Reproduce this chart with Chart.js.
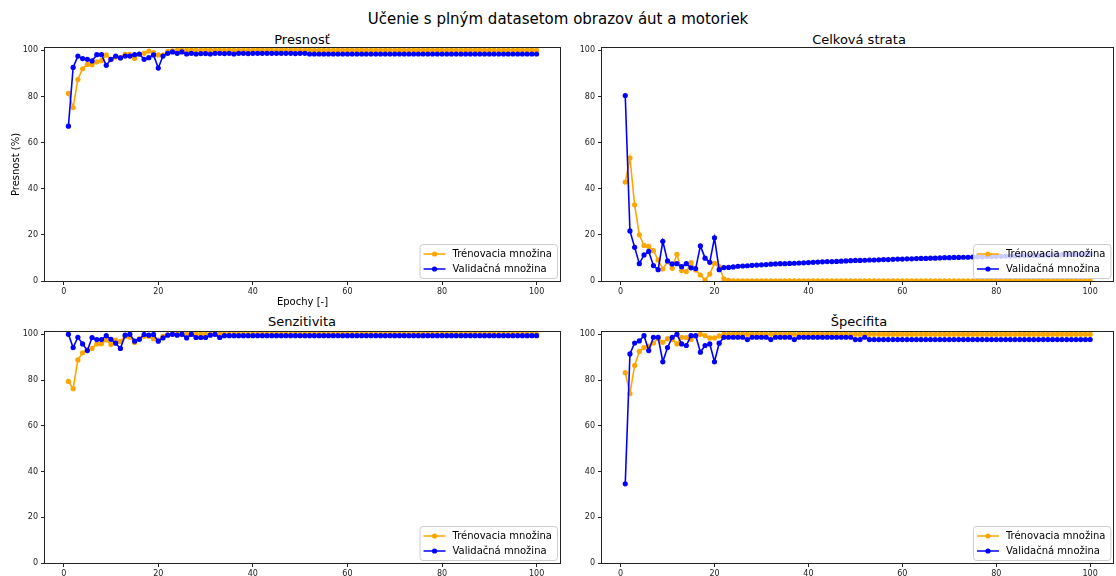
<!DOCTYPE html>
<html>
<head>
<meta charset="utf-8">
<title>Učenie s plným datasetom</title>
<script src="https://cdn.jsdelivr.net/npm/chart.js@4.4.1/dist/chart.umd.min.js"></script>
<style>
  body { margin: 0; background: #fff; }
  #fig { position: relative; width: 1116px; height: 576px; font-family: "DejaVu Sans", sans-serif; overflow: hidden; }
  #fig canvas { position: absolute; left: 0; top: 0; }
  .ttl { position: absolute; transform: translate(-50%, -50%); white-space: nowrap; color: #000; }
</style>
</head>
<body>
<div id="fig">
  <div class="ttl" style="left:558px;top:19px;font-size:15px">Učenie s plným datasetom obrazov áut a motoriek</div>
  <div class="ttl" style="left:302px;top:39px;font-size:13px">Presnosť</div>
  <div class="ttl" style="left:859px;top:39px;font-size:13px">Celková strata</div>
  <div class="ttl" style="left:302px;top:321px;font-size:13px">Senzitivita</div>
  <div class="ttl" style="left:859px;top:321px;font-size:13px">Špecifita</div>
  <canvas id="acc" width="1116" height="576"></canvas>
  <canvas id="loss" width="1116" height="576"></canvas>
  <canvas id="sens" width="1116" height="576"></canvas>
  <canvas id="spec" width="1116" height="576"></canvas>
</div>
<script>
// epochs 1..100
const epochs = Array.from({length: 100}, (_, i) => i + 1);
const xTicks = [0, 20, 40, 60, 80, 100];
const yTicks = [0, 20, 40, 60, 80, 100];
const seriesNames = ["Trénovacia množina", "Validačná množina"];

// presnost (%)
const accTrain = [
  81.3, 75.2, 87.3, 92.0, 93.9, 93.7, 95.0, 95.5, 98.0, 96.0,
  97.1, 96.8, 98.3, 98.3, 96.5, 98.3, 98.7, 99.7, 99.0, 98.0,
  97.9, 99.6, 99.8, 100, 100, 100, 100, 100, 100, 100,
  100, 100, 100, 100, 100, 100, 100, 100, 100, 100,
  100, 100, 100, 100, 100, 100, 100, 100, 100, 100,
  100, 100, 100, 100, 100, 100, 100, 100, 100, 100,
  100, 100, 100, 100, 100, 100, 100, 100, 100, 100,
  100, 100, 100, 100, 100, 100, 100, 100, 100, 100,
  100, 100, 100, 100, 100, 100, 100, 100, 100, 100,
  100, 100, 100, 100, 100, 100, 100, 100, 100, 100
];
const accVal = [
  67.1, 92.6, 97.5, 96.4, 96.1, 95.4, 98.1, 98.1, 93.5, 96.1,
  97.5, 96.7, 97.5, 97.5, 98.1, 98.4, 96.1, 96.8, 98.0, 92.3,
  97.5, 98.7, 99.3, 98.7, 99.3, 98.4, 98.7, 98.4, 98.6, 98.6,
  98.4, 98.7, 98.7, 98.6, 98.7, 98.4, 98.7, 98.7, 98.6, 98.7,
  98.7, 98.7, 98.7, 98.7, 98.7, 98.7, 98.7, 98.7, 98.6, 98.7,
  98.7, 98.4, 98.4, 98.4, 98.4, 98.4, 98.4, 98.4, 98.4, 98.4,
  98.4, 98.4, 98.4, 98.4, 98.4, 98.4, 98.4, 98.4, 98.4, 98.4,
  98.4, 98.4, 98.4, 98.4, 98.4, 98.4, 98.4, 98.4, 98.4, 98.4,
  98.4, 98.4, 98.4, 98.4, 98.4, 98.4, 98.4, 98.4, 98.4, 98.4,
  98.4, 98.4, 98.4, 98.4, 98.4, 98.4, 98.4, 98.4, 98.4, 98.4
];

// celkova strata
const lossTrain = [
  42.9, 53.3, 33.0, 20.0, 15.4, 15.0, 13.2, 9.1, 5.2, 8.4,
  5.5, 11.6, 4.5, 4.1, 8.0, 4.8, 2.6, 0.4, 3.0, 7.7,
  6.2, 0.9, 0.3, 0.1, 0.1, 0.1, 0.1, 0.1, 0.1, 0.1,
  0.1, 0.1, 0.1, 0.1, 0.1, 0.1, 0.1, 0.1, 0.1, 0.1,
  0.1, 0.1, 0.1, 0.1, 0.1, 0.1, 0.1, 0.1, 0.1, 0.1,
  0.1, 0.1, 0.1, 0.1, 0.1, 0.1, 0.1, 0.1, 0.1, 0.1,
  0.1, 0.1, 0.1, 0.1, 0.1, 0.1, 0.1, 0.1, 0.1, 0.1,
  0.1, 0.1, 0.1, 0.1, 0.1, 0.1, 0.1, 0.1, 0.1, 0.1,
  0.1, 0.1, 0.1, 0.1, 0.1, 0.1, 0.1, 0.1, 0.1, 0.1,
  0.1, 0.1, 0.1, 0.1, 0.1, 0.1, 0.1, 0.1, 0.1, 0.1
];
const lossVal = [
  80.4, 21.7, 14.6, 7.5, 11.3, 12.8, 6.7, 4.9, 17.2, 8.7,
  7.4, 7.5, 6.2, 7.5, 5.7, 5.4, 15.2, 9.9, 8.1, 18.7,
  4.9, 5.8, 5.9, 6.1, 6.4, 6.5, 6.6, 6.8, 6.9, 7.0,
  7.1, 7.3, 7.4, 7.5, 7.5, 7.6, 7.7, 7.8, 7.9, 8.0,
  8.1, 8.2, 8.3, 8.4, 8.4, 8.5, 8.6, 8.7, 8.8, 8.9,
  8.9, 9.0, 9.1, 9.1, 9.2, 9.3, 9.3, 9.4, 9.5, 9.5,
  9.6, 9.6, 9.7, 9.8, 9.8, 9.9, 9.9, 10.0, 10.1, 10.1,
  10.2, 10.2, 10.3, 10.3, 10.4, 10.5, 10.5, 10.6, 10.6, 10.7,
  10.7, 10.8, 10.8, 10.9, 10.9, 11.0, 11.0, 11.1, 11.1, 11.2,
  11.2, 11.3, 11.3, 11.4, 11.4, 11.5, 11.5, 11.6, 11.6, 11.7
];

// senzitivita
const sensTrain = [
  79.4, 76.2, 88.8, 91.9, 93.2, 93.8, 95.8, 95.9, 97.5, 95.5,
  97.5, 96.8, 99.0, 98.7, 96.4, 98.0, 99.1, 99.1, 98.1, 97.5,
  99.1, 99.8, 100, 100, 100, 100, 100, 100, 100, 100,
  100, 100, 100, 100, 100, 100, 100, 100, 100, 100,
  100, 100, 100, 100, 100, 100, 100, 100, 100, 100,
  100, 100, 100, 100, 100, 100, 100, 100, 100, 100,
  100, 100, 100, 100, 100, 100, 100, 100, 100, 100,
  100, 100, 100, 100, 100, 100, 100, 100, 100, 100,
  100, 100, 100, 100, 100, 100, 100, 100, 100, 100,
  100, 100, 100, 100, 100, 100, 100, 100, 100, 100
];
const sensVal = [
  100, 94.2, 98.7, 95.8, 92.9, 98.6, 97.7, 97.7, 99.4, 97.8,
  96.1, 93.8, 99.6, 100, 97.0, 97.8, 99.9, 99.6, 99.9, 97.0,
  98.4, 99.6, 100, 99.6, 100, 98.4, 100, 98.6, 98.6, 98.6,
  99.6, 100, 98.6, 99.4, 99.4, 99.4, 99.4, 99.4, 99.4, 99.4,
  99.4, 99.4, 99.4, 99.4, 99.4, 99.4, 99.4, 99.4, 99.4, 99.4,
  99.4, 99.4, 99.4, 99.4, 99.4, 99.4, 99.4, 99.4, 99.4, 99.4,
  99.4, 99.4, 99.4, 99.4, 99.4, 99.4, 99.4, 99.4, 99.4, 99.4,
  99.4, 99.4, 99.4, 99.4, 99.4, 99.4, 99.4, 99.4, 99.4, 99.4,
  99.4, 99.4, 99.4, 99.4, 99.4, 99.4, 99.4, 99.4, 99.4, 99.4,
  99.4, 99.4, 99.4, 99.4, 99.4, 99.4, 99.4, 99.4, 99.4, 99.4
];

// specifita
const specTrain = [
  83.2, 74.1, 86.4, 92.5, 94.2, 94.8, 96.2, 98.1, 96.5, 98.1,
  97.7, 95.8, 98.7, 98.6, 97.7, 99.3, 100, 99.4, 98.4, 98.4,
  99.3, 100, 100, 100, 100, 100, 100, 100, 100, 100,
  100, 100, 100, 100, 100, 100, 100, 100, 100, 100,
  100, 100, 100, 100, 100, 100, 100, 100, 100, 100,
  100, 100, 100, 100, 100, 100, 100, 100, 100, 100,
  100, 100, 100, 100, 100, 100, 100, 100, 100, 100,
  100, 100, 100, 100, 100, 100, 100, 100, 100, 100,
  100, 100, 100, 100, 100, 100, 100, 100, 100, 100,
  100, 100, 100, 100, 100, 100, 100, 100, 100, 100
];
const specVal = [
  34.6, 91.4, 96.2, 97.1, 99.4, 92.9, 98.7, 98.7, 88.0, 94.2,
  98.7, 100, 95.8, 95.1, 99.4, 99.4, 92.2, 95.1, 95.8, 88.0,
  96.1, 98.7, 98.7, 98.7, 98.7, 98.7, 97.7, 98.7, 98.7, 98.7,
  98.7, 97.7, 98.7, 98.7, 98.7, 98.7, 97.7, 98.7, 98.7, 98.7,
  98.7, 98.7, 98.7, 98.7, 98.7, 98.7, 98.7, 98.7, 98.7, 97.7,
  97.7, 98.7, 97.7, 97.7, 97.7, 97.7, 97.7, 97.7, 97.7, 97.7,
  97.7, 97.7, 97.7, 97.7, 97.7, 97.7, 97.7, 97.7, 97.7, 97.7,
  97.7, 97.7, 97.7, 97.7, 97.7, 97.7, 97.7, 97.7, 97.7, 97.7,
  97.7, 97.7, 97.7, 97.7, 97.7, 97.7, 97.7, 97.7, 97.7, 97.7,
  97.7, 97.7, 97.7, 97.7, 97.7, 97.7, 97.7, 97.7, 97.7, 97.7
];

const FONT = '"DejaVu Sans", sans-serif';
const ORANGE = "#ffa500";
const BLUE = "#0000ff";
const W = 1116, H = 576;

// box around the plotting area (all four sides)
const frame = {
  id: "frame",
  afterDatasetsDraw(chart) {
    const {ctx, chartArea: a} = chart;
    ctx.save();
    ctx.strokeStyle = "#222";
    ctx.lineWidth = 1;
    ctx.strokeRect(Math.round(a.left) - 0.5, Math.round(a.top) - 0.5,
      Math.round(a.right - a.left) + 1, Math.round(a.bottom - a.top) + 1);
    ctx.restore();
  }
};

// legend in the lower right corner of the plot
const boxLegend = {
  id: "boxLegend",
  afterDraw(chart) {
    const {ctx, chartArea: a} = chart;
    const sets = chart.data.datasets;
    ctx.save();
    ctx.font = "10px " + FONT;
    const tw = Math.max(...sets.map(d => ctx.measureText(d.label).width));
    const w = 4 + 22 + 7 + tw + 5, h = 34;
    const x0 = a.right - 3 - w, y0 = a.bottom - 3 - h;
    ctx.beginPath();
    ctx.roundRect(x0 + 0.5, y0 + 0.5, w, h, 3);
    ctx.fillStyle = "rgba(255,255,255,0.8)";
    ctx.fill();
    ctx.strokeStyle = "#cccccc";
    ctx.lineWidth = 1;
    ctx.stroke();
    sets.forEach((d, i) => {
      const cy = y0 + 10 + i * 15;
      ctx.strokeStyle = d.borderColor;
      ctx.lineWidth = 1.5;
      ctx.beginPath();
      ctx.moveTo(x0 + 4, cy);
      ctx.lineTo(x0 + 26, cy);
      ctx.stroke();
      ctx.fillStyle = d.borderColor;
      ctx.beginPath();
      ctx.arc(x0 + 15, cy, 2.6, 0, Math.PI * 2);
      ctx.fill();
      ctx.fillStyle = "#000";
      ctx.textBaseline = "middle";
      ctx.fillText(d.label, x0 + 33, cy + 0.5);
    });
    ctx.restore();
  }
};

function points(values) {
  return values.map((v, i) => ({x: epochs[i], y: v}));
}

function makeChart(id, box, train, val, labels) {
  const [L, T, R, B] = box;
  const yW = 45;
  const xH = labels ? 30 : 13;
  const tickFont = {family: FONT, size: 8};
  return new Chart(id, {
    type: "line",
    data: {
      datasets: [
        {label: seriesNames[0], data: points(train), borderColor: ORANGE, backgroundColor: ORANGE, order: 1},
        {label: seriesNames[1], data: points(val), borderColor: BLUE, backgroundColor: BLUE, order: 0}
      ]
    },
    options: {
      responsive: false,
      animation: false,
      events: [],
      layout: {padding: {left: L - yW, top: T, right: W - R, bottom: H - B - xH}},
      elements: {
        line: {borderWidth: 1.6, tension: 0},
        point: {radius: 2.6, borderWidth: 0, hoverRadius: 2.6}
      },
      plugins: {legend: {display: false}, tooltip: {enabled: false}},
      scales: {
        x: {
          type: "linear",
          min: -3.95,
          max: 104.95,
          afterBuildTicks: s => { s.ticks = xTicks.map(v => ({value: v})); },
          afterFit: s => { s.height = xH; },
          grid: {display: true, drawOnChartArea: false, drawTicks: true, tickLength: 4, color: "#222"},
          border: {display: false},
          ticks: {font: tickFont, color: "#222", padding: 2, maxRotation: 0, autoSkip: false},
          title: {display: !!labels, text: labels ? labels.x : "", font: {family: FONT, size: 10}, color: "#000", padding: 3}
        },
        y: {
          min: 0,
          max: 101,
          afterBuildTicks: s => { s.ticks = yTicks.map(v => ({value: v})); },
          afterFit: s => { s.width = yW; },
          grid: {display: true, drawOnChartArea: false, drawTicks: true, tickLength: 4, color: "#222"},
          border: {display: false},
          ticks: {font: tickFont, color: "#222", padding: 3},
          title: {display: !!labels, text: labels ? labels.y : "", font: {family: FONT, size: 10}, color: "#000", padding: 10}
        }
      }
    },
    plugins: [frame, boxLegend]
  });
}

makeChart("acc", [45, 48, 560, 281], accTrain, accVal, {x: "Epochy [-]", y: "Presnost (%)"});
makeChart("loss", [602, 48, 1116, 281], lossTrain, lossVal, null);
makeChart("sens", [45, 332, 560, 563], sensTrain, sensVal, null);
makeChart("spec", [602, 332, 1116, 563], specTrain, specVal, null);
</script>
</body>
</html>
